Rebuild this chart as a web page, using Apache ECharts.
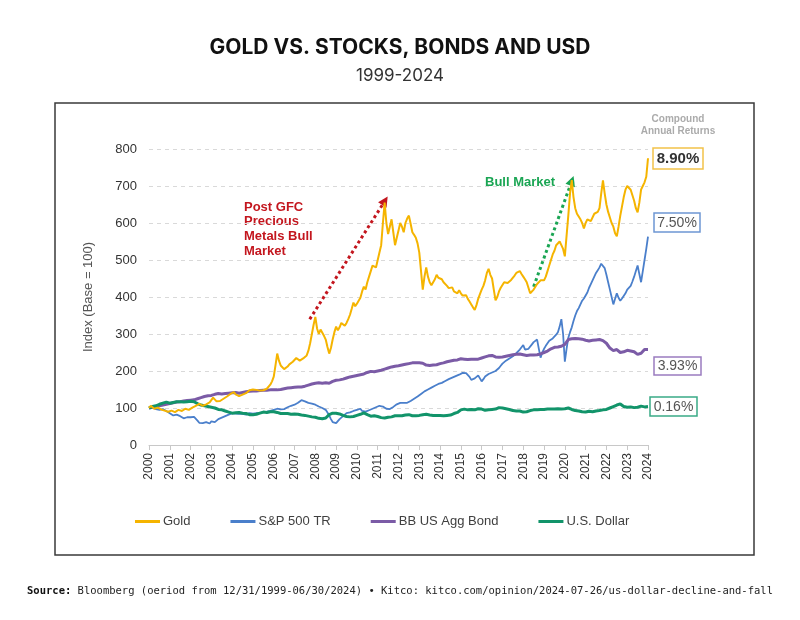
<!DOCTYPE html>
<html><head><meta charset="utf-8">
<script src="https://cdn.jsdelivr.net/npm/echarts@6/dist/echarts.min.js"></script>
<style>html,body{margin:0;padding:0;background:#fff}#c{width:800px;height:620px}</style>
</head><body><div id="c"></div>
<script>
// Picture time axis runs 2000..2024; each series is sampled evenly across it.
const firstYear = 2000, lastYear = 2024;
const yearTicks = ['2000','2001','2002','2003','2004','2005','2006','2007','2008','2009','2010','2011','2012','2013','2014','2015','2016','2017','2018','2019','2020','2021','2022','2023','2024'];
const seriesNames = ['Gold','S&P 500 TR','BB US Agg Bond','U.S. Dollar'];
const cagrLabels = ['8.90%','7.50%','3.93%','0.16%'];

// 12 samples per year
const gold = [
 100,106,103,98,97,101,99,96,95,93,92,90,
 90,93,91,89,92,95,94,92,95,98,97,95,
 99,101,103,106,108,111,110,106,107,110,112,115,
 120,128,124,118,116,119,122,125,128,131,134,138,
 140,143,137,134,132,133,136,138,140,144,148,146,
 150,147,149,146,147,150,148,151,152,157,163,172,
 185,215,247,228,215,210,205,208,212,218,222,225,
 229,235,233,228,231,234,236,242,255,275,300,325,
 346,315,300,312,310,295,285,265,247,262,285,305,
 320,310,318,330,326,322,330,340,352,368,385,375,
 382,390,398,415,428,420,440,455,470,485,490,480,
 500,520,540,600,655,600,570,590,610,575,540,560,
 580,600,590,575,600,612,620,598,575,568,560,545,
 520,470,420,455,480,455,440,432,430,448,460,452,
 455,448,440,436,430,424,420,426,415,412,410,418,
 410,404,400,405,395,388,380,372,365,378,395,408,
 420,430,445,465,476,460,450,420,391,400,415,425,
 430,440,445,438,440,446,450,458,465,462,470,462,
 455,448,440,425,410,415,420,428,435,440,445,440,
 445,455,470,485,500,515,525,540,545,550,540,530,
 510,565,620,680,716,670,640,625,620,610,600,585,
 600,610,615,605,610,625,620,630,640,680,715,680,
 650,630,615,600,590,572,564,590,620,645,670,690,
 700,705,690,675,660,640,629,655,690,700,710,725,
 775];
// 12 samples per year
const sp500 = [
 100,103,101,98,97,94,95,98,97,94,92,89,
 86,82,80,83,82,79,78,74,72,76,75,77,
 75,77,76,71,66,60,56,59,58,62,60,58,
 64,61,62,66,70,72,74,76,78,80,82,85,
 86,84,85,83,84,82,84,81,82,84,86,87,
 85,87,86,84,86,88,89,88,90,91,92,94,
 95,97,98,95,96,98,97,100,102,104,106,108,
 109,112,114,118,121,116,118,115,114,116,112,110,
 109,106,104,102,100,98,95,88,80,70,62,60,
 59,64,70,74,78,82,86,88,88,90,92,94,
 95,97,98,92,88,90,92,94,96,98,100,102,
 104,106,108,104,100,98,96,97,100,103,106,110,
 112,114,116,114,112,114,116,119,122,125,128,131,
 135,138,142,145,148,150,152,155,158,160,162,165,
 166,168,170,173,176,178,180,182,184,186,188,190,
 193,195,196,194,192,184,176,178,180,184,188,180,
 172,178,185,190,192,194,196,198,200,204,208,214,
 220,224,228,231,234,237,240,244,248,253,258,264,
 270,258,255,260,265,272,278,282,285,260,236,250,
 260,268,275,282,285,288,290,298,305,320,340,300,
 225,260,290,305,318,335,350,362,370,380,390,396,
 400,412,425,435,445,455,465,472,480,490,494,478,
 460,440,420,400,380,395,410,398,390,396,400,410,
 420,425,430,442,455,470,485,462,440,470,500,530,
 563];
// 6 samples per year
const bond = [
 100,102,104,106,108,110,
 112,114,116,117,119,120,
 121,122,125,128,131,133,
 134,137,139,138,139,140,
 141,142,140,142,144,145,
 146,146,147,148,148,149,
 149,149,150,152,154,155,
 156,157,157,159,162,165,
 167,168,167,168,167,172,
 175,176,178,181,184,186,
 188,190,192,196,199,198,
 200,202,205,208,211,213,
 214,216,218,220,222,222,
 222,221,216,215,216,217,
 220,222,225,227,229,230,
 233,232,231,232,232,232,
 235,238,241,242,238,237,
 238,240,242,244,245,246,
 244,242,243,243,244,246,
 250,254,260,264,265,267,
 272,285,287,288,287,286,
 283,281,283,284,285,282,
 275,262,255,258,250,252,
 256,254,252,245,248,258,
 258];
// 6 samples per year
const usd = [
 100,104,106,110,113,116,
 113,115,117,117,116,117,
 118,117,112,108,106,104,
 102,100,96,95,92,89,
 86,87,88,86,85,82,
 82,83,86,89,88,90,
 90,88,85,85,85,83,
 84,83,81,80,78,76,
 75,72,71,73,82,86,
 86,84,80,77,76,77,
 80,83,87,82,78,79,
 77,74,73,75,76,79,
 79,79,81,82,79,79,
 80,82,83,81,80,80,
 80,79,80,81,85,88,
 95,97,95,96,95,98,
 97,94,95,96,97,101,
 100,98,96,93,92,92,
 89,90,93,95,95,96,
 96,97,97,97,98,97,
 98,100,96,93,92,90,
 89,91,90,92,93,95,
 96,100,104,108,111,104,
 102,103,101,102,105,103,
 104];

// Annotation arrows (data coordinates: [year, index])
const gfcArrow = [[2007.73, 340], [2011.35, 660]];
const bullArrow = [[2018.5, 428], [2020.34, 714]];

const colors = ['#F5B400', '#4A7FCB', '#7B5BA6', '#12946A'];
const widths = [2, 1.8, 3, 3];

function pairs(vals) {
  const step = (lastYear - firstYear) / (vals.length - 1);
  return vals.map((v, i) => [firstYear + i * step, v]);
}
const allVals = [gold, sp500, bond, usd];

const series = allVals.map((vals, i) => ({
  name: seriesNames[i],
  type: 'line',
  data: pairs(vals),
  showSymbol: false,
  symbol: 'none',
  lineStyle: { color: colors[i], width: widths[i] },
  itemStyle: { color: colors[i] },
  z: 2 + i
}));
series[0].z = 6;
series[0].markLine = {
  silent: true,
  symbol: ['none', 'triangle'],
  symbolSize: [10, 10],
  label: { show: false },
  emphasis: { disabled: true },
  data: [
    [{ coord: gfcArrow[0], lineStyle: { color: '#C3161E', type: [3, 3], width: 3 } }, { coord: gfcArrow[1] }],
    [{ coord: bullArrow[0], lineStyle: { color: '#1AA553', type: [3, 3], width: 3 } }, { coord: bullArrow[1] }]
  ]
};

const boxDefs = [
  { t: cagrLabels[0], x: 653, y: 148, w: 50, h: 21, c: '#F2C24A', bold: true },
  { t: cagrLabels[1], x: 654, y: 213, w: 46, h: 19, c: '#6E97D3', bold: false },
  { t: cagrLabels[2], x: 654, y: 357, w: 47, h: 18, c: '#9A7CC0', bold: false },
  { t: cagrLabels[3], x: 650, y: 397, w: 47, h: 19, c: '#3AAA86', bold: false }
];
const graphics = [
  { type: 'rect', z: -1, shape: { x: 55, y: 103, width: 699, height: 452 }, style: { fill: 'none', stroke: '#3a3a3a', lineWidth: 1.5 } },
  { type: 'text', style: { text: 'Compound', x: 678, y: 119, align: 'center', verticalAlign: 'middle', font: 'bold 10px "Liberation Sans", Arial', fill: '#ababab' } },
  { type: 'text', style: { text: 'Annual Returns', x: 678, y: 131, align: 'center', verticalAlign: 'middle', font: 'bold 10px "Liberation Sans", Arial', fill: '#ababab' } },
  { type: 'text', style: { text: 'Post GFC\nPrecious\nMetals Bull\nMarket', x: 244, y: 200, font: 'bold 13px "Liberation Sans", Arial', fill: '#C3161E', lineHeight: 14.6 } },
  { type: 'text', style: { text: 'Bull Market', x: 485, y: 182, verticalAlign: 'middle', font: 'bold 13px "Liberation Sans", Arial', fill: '#1AA553' } }
];
boxDefs.forEach(b => {
  graphics.push({ type: 'rect', shape: { x: b.x, y: b.y, width: b.w, height: b.h }, style: { fill: '#fff', stroke: b.c, lineWidth: 1.5 } });
  graphics.push({ type: 'text', style: { text: b.t, x: b.x + b.w / 2, y: b.y + b.h / 2 + 0.5, align: 'center', verticalAlign: 'middle', font: (b.bold ? 'bold 15px ' : '14px ') + '"Liberation Sans", Arial', fill: b.bold ? '#333' : '#555' } });
});
graphics.push({
  type: 'text',
  style: {
    x: 400, y: 591, align: 'center', verticalAlign: 'middle',
    text: '{b|Source:} Bloomberg (oeriod from 12/31/1999-06/30/2024) \u2022 Kitco: kitco.com/opinion/2024-07-26/us-dollar-decline-and-fall',
    font: '10.5px "DejaVu Sans Mono", monospace', fill: '#222',
    rich: { b: { fontWeight: 'bold', fontFamily: '"DejaVu Sans Mono", monospace', fontSize: 10.5, fill: '#111' } }
  }
});

const chart = echarts.init(document.getElementById('c'), null, { renderer: 'canvas' });
chart.setOption({
  animation: false,
  backgroundColor: '#fff',
  title: [
    { text: 'GOLD VS. STOCKS, BONDS AND USD', left: 'center', top: 32, textStyle: { fontFamily: 'Inter, "Liberation Sans", Arial', fontWeight: 'bold', fontSize: 21, color: '#111' } },
    { text: '1999-2024', left: 'center', top: 62, textStyle: { fontFamily: 'Inter, "Liberation Sans", Arial', fontWeight: 'normal', fontSize: 17, color: '#333' } }
  ],
  legend: {
    data: seriesNames.map(n => ({ name: n, icon: 'rect' })),
    left: 130, top: 510,
    itemGap: 40, itemWidth: 25, itemHeight: 3,
    textStyle: { fontFamily: '"Liberation Sans", Arial', fontSize: 13, color: '#404040', padding: [0, 0, 0, -2] }
  },
  grid: { left: 149, right: 152, top: 149, bottom: 175, containLabel: false },
  xAxis: {
    type: 'value', min: firstYear, max: lastYear, interval: 1,
    axisLine: { show: true, lineStyle: { color: '#c8c8c8', width: 1 } },
    axisTick: { show: true, length: 5, lineStyle: { color: '#c8c8c8' } },
    splitLine: { show: false },
    axisLabel: { rotate: 90, margin: 8, fontFamily: '"Liberation Sans", Arial', fontSize: 12, color: '#333',
      formatter: v => yearTicks[Math.round(v - firstYear)] || '' }
  },
  yAxis: {
    type: 'value', min: 0, max: 800, interval: 100,
    name: 'Index (Base = 100)', nameLocation: 'middle', nameGap: 54, nameRotate: 90,
    nameTextStyle: { fontFamily: '"Liberation Sans", Arial', fontSize: 13, color: '#555' },
    axisLine: { show: false }, axisTick: { show: false },
    axisLabel: { margin: 12, fontFamily: '"Liberation Sans", Arial', fontSize: 13, color: '#333' },
    splitLine: { show: true, lineStyle: { color: '#d9d9d9', type: [4, 4], width: 1 } }
  },
  series: series,
  graphic: graphics
});
</script></body></html>
